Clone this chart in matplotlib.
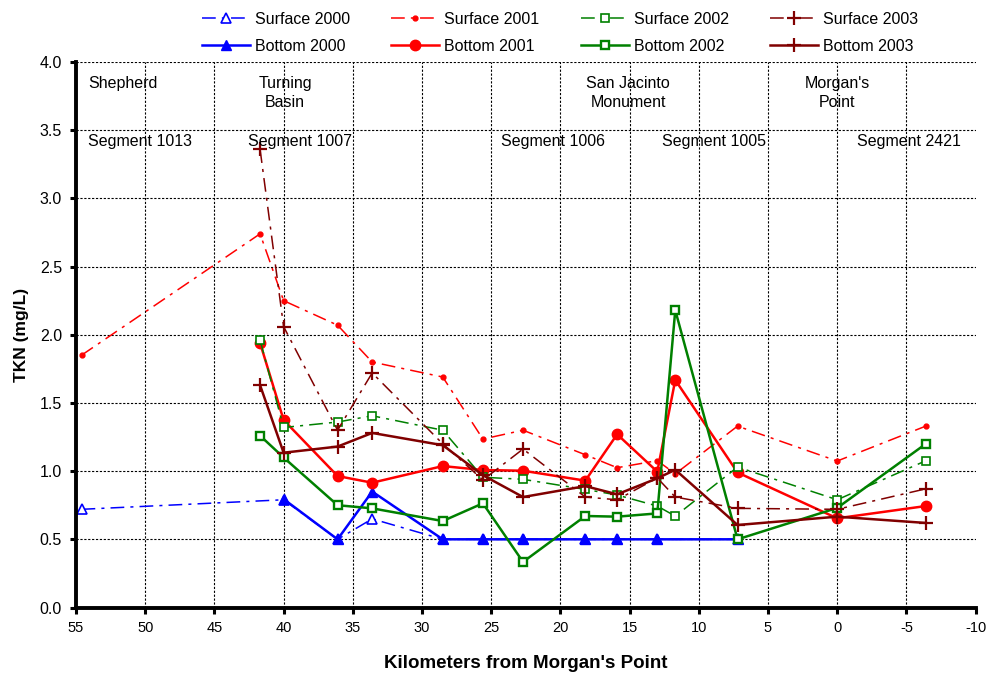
import numpy as np
import matplotlib
matplotlib.use("Agg")
import matplotlib.pyplot as plt

plt.rcParams['font.family'] = ['Liberation Sans', 'DejaVu Sans']

# sampling stations, km from Morgan's Point
km = np.array([54.6, 41.7, 40.0, 36.1, 33.6, 28.5, 25.6, 22.7, 18.2,
               15.9, 13.0, 11.7, 7.2, 0.0, -6.4])

nan = np.nan
surface_2000 = [0.72, nan, 0.79, 0.50, 0.65, 0.50, 0.50, 0.50, 0.50, 0.50, 0.50, nan, 0.50, nan, nan]
bottom_2000 = [nan, nan, 0.795, 0.50, 0.85, 0.50, 0.50, 0.50, 0.50, 0.50, 0.50, nan, 0.50, nan, nan]
surface_2001 = [1.85, 2.74, 2.25, 2.07, 1.80, 1.69, 1.235, 1.30, 1.12, 1.025, 1.077, 0.98, 1.33, 1.074, 1.33]
bottom_2001 = [nan, 1.94, 1.375, 0.964, 0.915, 1.037, 1.008, 1.003, 0.93, 1.27, 0.996, 1.668, 0.99, 0.654, 0.744]
surface_2002 = [nan, 1.96, 1.32, 1.36, 1.406, 1.30, 0.955, 0.94, 0.866, 0.825, 0.744, 0.67, 1.03, 0.79, 1.076]
bottom_2002 = [nan, 1.26, 1.10, 0.75, 0.727, 0.634, 0.764, 0.334, 0.671, 0.666, 0.69, 2.18, 0.50, 0.73, 1.20]
surface_2003 = [nan, 3.36, 2.06, 1.30, 1.72, 1.20, 0.935, 1.162, 0.81, 0.79, 0.95, 0.81, 0.727, 0.72, 0.87]
bottom_2003 = [nan, 1.63, 1.135, 1.18, 1.28, 1.19, 0.97, 0.81, 0.89, 0.83, 0.947, 1.01, 0.605, 0.666, 0.62]

x_ticks = [55, 50, 45, 40, 35, 30, 25, 20, 15, 10, 5, 0, -5, -10]
y_ticks = [0.0, 0.5, 1.0, 1.5, 2.0, 2.5, 3.0, 3.5, 4.0]

places = [("Shepherd", 54.1, "left"), ("Turning\nBasin", 39.9, "center"),
          ("San Jacinto\nMonument", 15.1, "center"), ("Morgan's\nPoint", 0.0, "center")]
segments = [("Segment 1013", 54.1, "left"), ("Segment 1007", 38.8, "center"),
            ("Segment 1006", 20.5, "center"), ("Segment 1005", 8.9, "center"),
            ("Segment 2421", -5.2, "center")]

BLUE, RED, GREEN, DRED = '#0000FF', '#FF0000', '#008000', '#800000'
DASHDOT = (0, (9, 4, 2, 4))

series = [
    ("Surface 2000", surface_2000, dict(color=BLUE, ls=DASHDOT, lw=1.1, marker='^', ms=7,
                                        mfc='white', mec=BLUE, mew=1.2)),
    ("Bottom 2000", bottom_2000, dict(color=BLUE, ls='-', lw=1.8, marker='^', ms=7.5,
                                      mfc=BLUE, mec=BLUE)),
    ("Surface 2001", surface_2001, dict(color=RED, ls=DASHDOT, lw=1.1, marker='o', ms=3.5,
                                        mfc=RED, mec=RED)),
    ("Bottom 2001", bottom_2001, dict(color=RED, ls='-', lw=1.8, marker='o', ms=7.5,
                                      mfc=RED, mec=RED)),
    ("Surface 2002", surface_2002, dict(color=GREEN, ls=DASHDOT, lw=1.1, marker='s', ms=5.5,
                                        mfc='white', mec=GREEN, mew=1.2)),
    ("Bottom 2002", bottom_2002, dict(color=GREEN, ls='-', lw=1.8, marker='s', ms=5.5,
                                      mfc='white', mec=GREEN, mew=1.7)),
    ("Surface 2003", surface_2003, dict(color=DRED, ls=DASHDOT, lw=1.1, marker='+', ms=10,
                                        mec=DRED, mew=1.6)),
    ("Bottom 2003", bottom_2003, dict(color=DRED, ls='-', lw=1.8, marker='+', ms=10,
                                      mec=DRED, mew=1.6)),
]

fig = plt.figure(figsize=(9.9, 6.77), dpi=100)
ax = fig.add_axes([76 / 990, 1 - 607.5 / 677, 899.6 / 990, 545.5 / 677])

handles = []
for name, vals, style in series:
    vals = np.array(vals, dtype=float)
    ok = ~np.isnan(vals)
    line, = ax.plot(km[ok], vals[ok], label=name, **style)
    handles.append(line)

ax.set_xlim(55, -10)
ax.set_ylim(0, 4)
ax.set_xticks(x_ticks)
ax.set_xticklabels([str(t) for t in x_ticks], fontsize=10.5)
ax.set_yticks(y_ticks)
ax.set_yticklabels([f"{t:.1f}" for t in y_ticks], fontsize=11.5)

ax.grid(True, color='black', ls=(0, (2, 1.5)), lw=0.8)
ax.set_axisbelow(True)
ax.xaxis.get_gridlines()[-1].set_visible(False)
ax.xaxis.get_gridlines()[0].set_visible(False)

for side in ('top', 'right'):
    ax.spines[side].set_visible(False)
for side in ('left', 'bottom'):
    ax.spines[side].set_linewidth(2.8)
ax.tick_params(direction='out', length=4, width=2.2, pad=6)

ax.set_xlabel("Kilometers from Morgan's Point", fontsize=13.5, fontweight='bold', labelpad=14)
ax.set_ylabel("TKN (mg/L)", fontsize=12.5, fontweight='bold', labelpad=8)

for txt, x, ha in places:
    ax.text(x, 3.90, txt, ha=ha, va='top', fontsize=11.5, linespacing=1.35)
for txt, x, ha in segments:
    ax.text(x, 3.42, txt, ha=ha, va='center', fontsize=11.5)

fig.legend(handles=handles, ncol=4, loc='center', bbox_to_anchor=(560 / 990, 1 - 33 / 677),
           frameon=False, fontsize=11.5, handlelength=3.0, handletextpad=0.3,
           columnspacing=2.6, labelspacing=0.75)

fig.savefig("out.png", dpi=100)
